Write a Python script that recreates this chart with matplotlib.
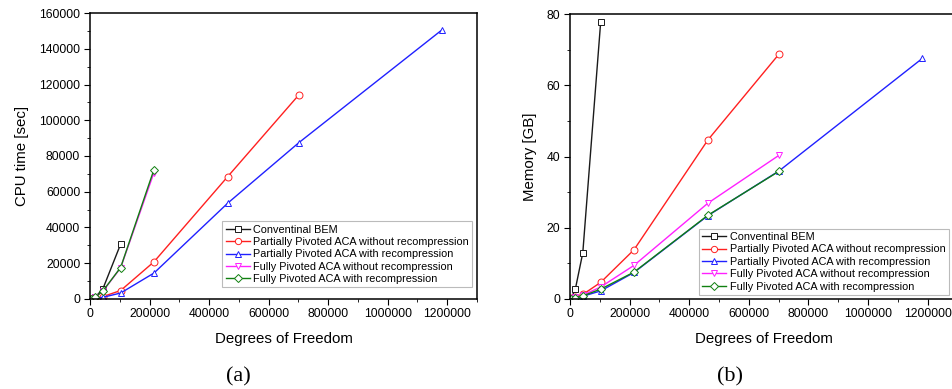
import matplotlib
matplotlib.use('Agg')
import matplotlib.pyplot as plt
from matplotlib.ticker import MultipleLocator, FuncFormatter

plt.rcParams['font.family'] = ['Liberation Sans', 'DejaVu Sans']

# Degrees of freedom per test case
DOF = [4800, 18000, 43000, 103000, 215000, 463000, 702000, 1182000]

LABELS = ['Conventinal BEM',
          'Partially Pivoted ACA without recompression',
          'Partially Pivoted ACA with recompression',
          'Fully Pivoted ACA without recompression',
          'Fully Pivoted ACA with recompression']

# (a) CPU time [sec]
cpu_bem = [100, 1000, 5400, 30600]
cpu_pp_norc = [50, 300, 1200, 4600, 20700, 68500, 114300]
cpu_pp_rc = [30, 200, 800, 3200, 14400, 53600, 87500, 150600]
cpu_fp_norc = [80, 800, 4100, 17300, 70700]
cpu_fp_rc = [100, 900, 4300, 17500, 72400]

# (b) Memory [GB]
mem_bem = [0.3, 2.7, 12.9, 77.8]
mem_pp_norc = [0.1, 0.5, 1.2, 4.6, 13.8, 44.7, 68.9]
mem_pp_rc = [0.05, 0.3, 0.7, 2.2, 7.4, 23.4, 36.0, 67.6]
mem_fp_norc = [0.08, 0.4, 1.0, 3.3, 9.4, 26.9, 40.4]
mem_fp_rc = [0.06, 0.35, 0.8, 2.7, 7.5, 23.5, 35.9]

colors = ['#1a1a1a', '#ff2020', '#2020ff', '#ff20ff', '#108010']
markers = ['s', 'o', '^', 'v', 'D']
msizes = [4.5, 5, 5, 5, 4.5]

plain = FuncFormatter(lambda v, p: '%d' % v)


def draw(ax, series, ylabel, ymax, ystep, leg_anchor):
    for i, ys in enumerate(series):
        ax.plot(DOF[:len(ys)], ys, color=colors[i], lw=1.0,
                marker=markers[i], ms=msizes[i], mfc='white',
                mec=colors[i], mew=0.7, label=LABELS[i])
    ax.set_xlim(0, 1300000)
    ax.set_ylim(0, ymax)
    ax.set_xticks(range(0, 1200001, 200000))
    ax.xaxis.set_major_formatter(plain)
    ax.yaxis.set_major_formatter(plain)
    ax.xaxis.set_minor_locator(MultipleLocator(100000))
    ax.yaxis.set_major_locator(MultipleLocator(ystep))
    ax.yaxis.set_minor_locator(MultipleLocator(ystep / 2))
    ax.tick_params(which='both', direction='out', labelsize=8.7,
                   top=False, right=False)
    ax.tick_params(which='major', length=4, pad=3)
    ax.tick_params(which='minor', length=2.5)
    for s in ax.spines.values():
        s.set_linewidth(1.1)
    ax.set_xlabel('Degrees of Freedom', fontsize=10.8, labelpad=8)
    ax.set_ylabel(ylabel, fontsize=10.8, labelpad=7)
    leg = ax.legend(loc='lower right', bbox_to_anchor=leg_anchor,
                    fontsize=7.8, frameon=True, fancybox=False,
                    edgecolor='#aaaaaa', handlelength=2.2,
                    handletextpad=0.35, borderpad=0.3, labelspacing=0.22,
                    borderaxespad=0.0, markerscale=0.9)
    leg.get_frame().set_linewidth(0.8)


fig = plt.figure(figsize=(9.52, 3.89), dpi=100)
ax1 = fig.add_axes([0.0945, 0.232, 0.4065, 0.734])
ax2 = fig.add_axes([0.5987, 0.232, 0.407, 0.731])

draw(ax1, [cpu_bem, cpu_pp_norc, cpu_pp_rc, cpu_fp_norc, cpu_fp_rc],
     'CPU time [sec]', 160000, 20000, (0.988, 0.04))
draw(ax2, [mem_bem, mem_pp_norc, mem_pp_rc, mem_fp_norc, mem_fp_rc],
     'Memory [GB]', 80, 20, (0.978, 0.014))
ax2.yaxis.set_minor_locator(MultipleLocator(10))

fig.text(0.2505, 0.02, '(a)', fontsize=16, family='Liberation Serif', ha='center')
fig.text(0.7665, 0.02, '(b)', fontsize=16, family='Liberation Serif', ha='center')

fig.savefig('out.png', dpi=100)
plt.close(fig)
